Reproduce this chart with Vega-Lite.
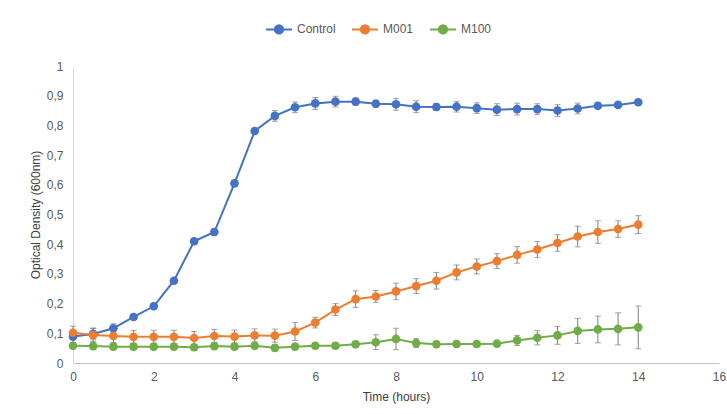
{
  "$schema": "https://vega.github.io/schema/vega-lite/v6.json",
  "autosize": {"type": "none"},
  "width": 646,
  "height": 297,
  "padding": {"left": 73, "top": 66, "right": 8, "bottom": 51},
  "background": "white",
  "config": {
    "view": {"stroke": null},
    "font": "Liberation Sans",
    "axis": {"labelFont": "Liberation Sans", "titleFont": "Liberation Sans", "labelFontSize": 12, "titleFontSize": 12, "labelColor": "#595959", "titleColor": "#404040", "titleFontWeight": "normal", "grid": false, "ticks": false, "domainColor": "#d9d9d9", "domainWidth": 1, "labelFlush": false}
  },
  "data": {"values": [
    {"series":"Control","t":0,"v":0.089,"lo":0.069,"hi":0.109},
    {"series":"Control","t":0.5,"v":0.098,"lo":0.078,"hi":0.118},
    {"series":"Control","t":1,"v":0.117,"lo":0.102,"hi":0.132},
    {"series":"Control","t":1.5,"v":0.155,"lo":0.147,"hi":0.163},
    {"series":"Control","t":2,"v":0.191,"lo":0.183,"hi":0.199},
    {"series":"Control","t":2.5,"v":0.277,"lo":0.269,"hi":0.285},
    {"series":"Control","t":3,"v":0.41,"lo":0.402,"hi":0.418},
    {"series":"Control","t":3.5,"v":0.441,"lo":0.429,"hi":0.453},
    {"series":"Control","t":4,"v":0.605,"lo":0.597,"hi":0.613},
    {"series":"Control","t":4.5,"v":0.781,"lo":0.773,"hi":0.789},
    {"series":"Control","t":5,"v":0.832,"lo":0.814,"hi":0.85},
    {"series":"Control","t":5.5,"v":0.861,"lo":0.843,"hi":0.879},
    {"series":"Control","t":6,"v":0.874,"lo":0.854,"hi":0.894},
    {"series":"Control","t":6.5,"v":0.88,"lo":0.862,"hi":0.898},
    {"series":"Control","t":7,"v":0.88,"lo":0.868,"hi":0.892},
    {"series":"Control","t":7.5,"v":0.873,"lo":0.861,"hi":0.885},
    {"series":"Control","t":8,"v":0.871,"lo":0.851,"hi":0.891},
    {"series":"Control","t":8.5,"v":0.863,"lo":0.843,"hi":0.883},
    {"series":"Control","t":9,"v":0.862,"lo":0.85,"hi":0.874},
    {"series":"Control","t":9.5,"v":0.863,"lo":0.845,"hi":0.881},
    {"series":"Control","t":10,"v":0.858,"lo":0.84,"hi":0.876},
    {"series":"Control","t":10.5,"v":0.853,"lo":0.833,"hi":0.873},
    {"series":"Control","t":11,"v":0.855,"lo":0.835,"hi":0.875},
    {"series":"Control","t":11.5,"v":0.855,"lo":0.837,"hi":0.873},
    {"series":"Control","t":12,"v":0.85,"lo":0.83,"hi":0.87},
    {"series":"Control","t":12.5,"v":0.857,"lo":0.839,"hi":0.875},
    {"series":"Control","t":13,"v":0.866,"lo":0.856,"hi":0.876},
    {"series":"Control","t":13.5,"v":0.869,"lo":0.861,"hi":0.877},
    {"series":"Control","t":14,"v":0.878,"lo":0.87,"hi":0.886},
    {"series":"M001","t":0,"v":0.102,"lo":0.08,"hi":0.124},
    {"series":"M001","t":0.5,"v":0.094,"lo":0.072,"hi":0.116},
    {"series":"M001","t":1,"v":0.091,"lo":0.069,"hi":0.113},
    {"series":"M001","t":1.5,"v":0.088,"lo":0.066,"hi":0.11},
    {"series":"M001","t":2,"v":0.088,"lo":0.066,"hi":0.11},
    {"series":"M001","t":2.5,"v":0.088,"lo":0.066,"hi":0.11},
    {"series":"M001","t":3,"v":0.084,"lo":0.062,"hi":0.106},
    {"series":"M001","t":3.5,"v":0.091,"lo":0.069,"hi":0.113},
    {"series":"M001","t":4,"v":0.089,"lo":0.067,"hi":0.111},
    {"series":"M001","t":4.5,"v":0.093,"lo":0.071,"hi":0.115},
    {"series":"M001","t":5,"v":0.092,"lo":0.07,"hi":0.114},
    {"series":"M001","t":5.5,"v":0.106,"lo":0.076,"hi":0.136},
    {"series":"M001","t":6,"v":0.136,"lo":0.118,"hi":0.154},
    {"series":"M001","t":6.5,"v":0.18,"lo":0.16,"hi":0.2},
    {"series":"M001","t":7,"v":0.215,"lo":0.187,"hi":0.243},
    {"series":"M001","t":7.5,"v":0.224,"lo":0.204,"hi":0.244},
    {"series":"M001","t":8,"v":0.241,"lo":0.213,"hi":0.269},
    {"series":"M001","t":8.5,"v":0.259,"lo":0.234,"hi":0.284},
    {"series":"M001","t":9,"v":0.277,"lo":0.249,"hi":0.305},
    {"series":"M001","t":9.5,"v":0.305,"lo":0.28,"hi":0.33},
    {"series":"M001","t":10,"v":0.325,"lo":0.3,"hi":0.35},
    {"series":"M001","t":10.5,"v":0.343,"lo":0.318,"hi":0.368},
    {"series":"M001","t":11,"v":0.364,"lo":0.336,"hi":0.392},
    {"series":"M001","t":11.5,"v":0.382,"lo":0.355,"hi":0.409},
    {"series":"M001","t":12,"v":0.404,"lo":0.376,"hi":0.432},
    {"series":"M001","t":12.5,"v":0.426,"lo":0.391,"hi":0.461},
    {"series":"M001","t":13,"v":0.441,"lo":0.403,"hi":0.479},
    {"series":"M001","t":13.5,"v":0.451,"lo":0.423,"hi":0.479},
    {"series":"M001","t":14,"v":0.466,"lo":0.436,"hi":0.496},
    {"series":"M100","t":0,"v":0.058,"lo":0.048,"hi":0.068},
    {"series":"M100","t":0.5,"v":0.057,"lo":0.047,"hi":0.067},
    {"series":"M100","t":1,"v":0.055,"lo":0.045,"hi":0.065},
    {"series":"M100","t":1.5,"v":0.055,"lo":0.045,"hi":0.065},
    {"series":"M100","t":2,"v":0.055,"lo":0.045,"hi":0.065},
    {"series":"M100","t":2.5,"v":0.055,"lo":0.045,"hi":0.065},
    {"series":"M100","t":3,"v":0.053,"lo":0.043,"hi":0.063},
    {"series":"M100","t":3.5,"v":0.057,"lo":0.047,"hi":0.067},
    {"series":"M100","t":4,"v":0.055,"lo":0.045,"hi":0.065},
    {"series":"M100","t":4.5,"v":0.058,"lo":0.048,"hi":0.068},
    {"series":"M100","t":5,"v":0.051,"lo":0.041,"hi":0.061},
    {"series":"M100","t":5.5,"v":0.055,"lo":0.045,"hi":0.065},
    {"series":"M100","t":6,"v":0.058,"lo":0.048,"hi":0.068},
    {"series":"M100","t":6.5,"v":0.058,"lo":0.048,"hi":0.068},
    {"series":"M100","t":7,"v":0.063,"lo":0.053,"hi":0.073},
    {"series":"M100","t":7.5,"v":0.07,"lo":0.045,"hi":0.095},
    {"series":"M100","t":8,"v":0.081,"lo":0.045,"hi":0.117},
    {"series":"M100","t":8.5,"v":0.067,"lo":0.052,"hi":0.082},
    {"series":"M100","t":9,"v":0.063,"lo":0.053,"hi":0.073},
    {"series":"M100","t":9.5,"v":0.064,"lo":0.054,"hi":0.074},
    {"series":"M100","t":10,"v":0.064,"lo":0.056,"hi":0.072},
    {"series":"M100","t":10.5,"v":0.065,"lo":0.055,"hi":0.075},
    {"series":"M100","t":11,"v":0.076,"lo":0.059,"hi":0.093},
    {"series":"M100","t":11.5,"v":0.085,"lo":0.061,"hi":0.109},
    {"series":"M100","t":12,"v":0.093,"lo":0.063,"hi":0.123},
    {"series":"M100","t":12.5,"v":0.108,"lo":0.066,"hi":0.15},
    {"series":"M100","t":13,"v":0.113,"lo":0.068,"hi":0.158},
    {"series":"M100","t":13.5,"v":0.115,"lo":0.061,"hi":0.169},
    {"series":"M100","t":14,"v":0.12,"lo":0.048,"hi":0.192}
  ]},
  "encoding": {
    "x": {"field": "t", "type": "quantitative", "scale": {"domain": [0, 16], "nice": false}, "axis": {"values": [0,2,4,6,8,10,12,14,16], "title": "Time (hours)", "labelPadding": 8, "titlePadding": 9, "domainColor": "#bfbfbf"}},
    "y": {"field": "v", "type": "quantitative", "scale": {"domain": [0, 1], "nice": false}, "axis": {"values": [0,0.1,0.2,0.3,0.4,0.5,0.6,0.7,0.8,0.9,1], "title": "Optical Density (600nm)", "labelPadding": 10, "labelExpr": "replace(format(datum.value, '.1~f'), '.', ',')", "titleX": -38, "titleY": 148.5, "titleAngle": -90, "titleAlign": "center", "titleBaseline": "middle"}}
  },
  "layer": [
    {
      "mark": {"type": "line", "strokeWidth": 2},
      "encoding": {
        "color": {"field": "series", "type": "nominal", "scale": {"domain": ["Control","M001","M100"], "range": ["#4472C4","#ED7D31","#70AD47"]},
          "legend": {"orient": "none", "legendX": 192, "legendY": -51, "direction": "horizontal", "title": null, "labelFont": "Liberation Sans", "labelFontSize": 12, "labelColor": "#595959", "symbolType": "M-1,0L1,0M-0.32,0A0.32,0.32 0 1,1 0.32,0A0.32,0.32 0 1,1 -0.32,0Z", "symbolSize": 676, "symbolStrokeWidth": 2, "labelOffset": 4, "columnPadding": 12,
            "encode": {"symbols": {"update": {"fill": {"scale": "color", "field": "value"}, "stroke": {"scale": "color", "field": "value"}, "opacity": {"value": 1}}}}}}
      }
    },
    {
      "mark": {"type": "errorbar", "ticks": {"size": 6}, "color": "#7f7f7f", "thickness": 1},
      "encoding": {"y": {"field": "lo", "type": "quantitative"}, "y2": {"field": "hi"}, "detail": {"field": "series"}}
    },
    {
      "mark": {"type": "point", "filled": true, "size": 75, "opacity": 1},
      "encoding": {"color": {"field": "series", "type": "nominal", "legend": null}}
    }
  ]
}
